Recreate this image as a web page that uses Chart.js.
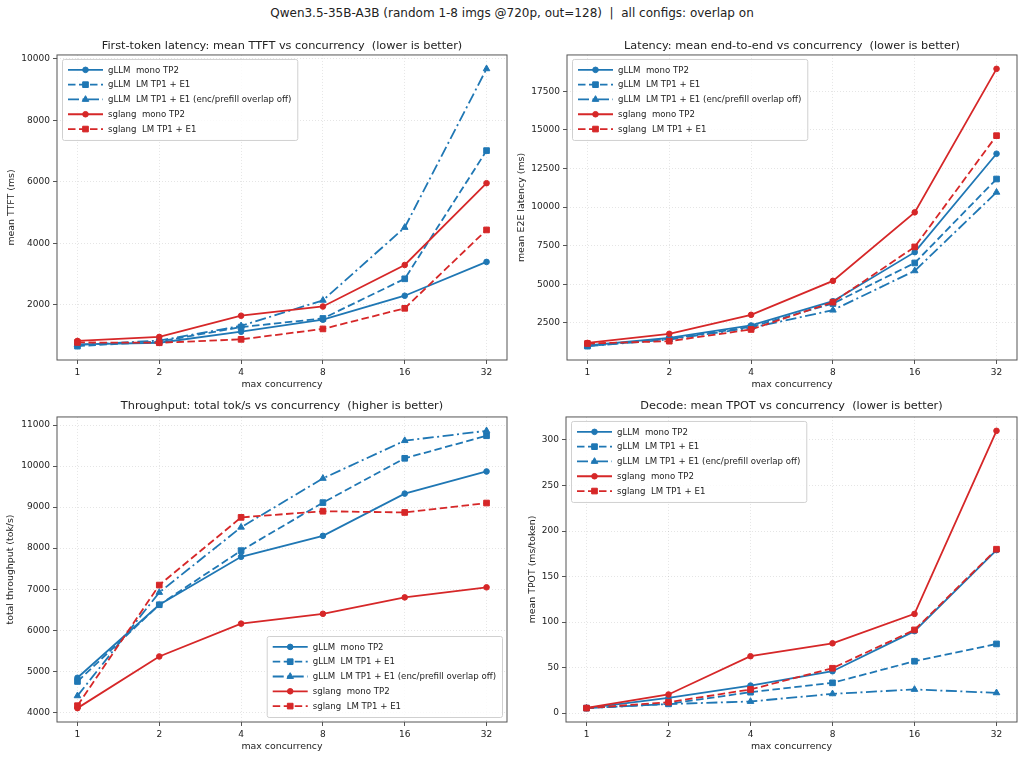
<!DOCTYPE html>
<html>
<head>
<meta charset="utf-8">
<script src="https://cdn.jsdelivr.net/npm/chart.js@4"></script>
<style>
  body { margin: 0; background: #fff; width: 1024px; height: 758px; overflow: hidden; position: relative; font-family: "DejaVu Sans", sans-serif; }
  #suptitle { position: absolute; top: 6px; left: 0; width: 1024px; text-align: center; font-size: 12px; line-height: 14px; color: #222; }
  canvas { position: absolute; }
</style>
</head>
<body>
<div id="suptitle">Qwen3.5-35B-A3B (random 1-8 imgs @720p, out=128)&nbsp;&nbsp;|&nbsp;&nbsp;all configs: overlap on</div>
<canvas id="ttft" width="512" height="362" style="left:0;top:28px"></canvas>
<canvas id="e2e" width="512" height="362" style="left:512px;top:28px"></canvas>
<canvas id="tput" width="512" height="368" style="left:0;top:390px"></canvas>
<canvas id="tpot" width="512" height="368" style="left:512px;top:390px"></canvas>
<script>
// x categories (max concurrency)
const concurrency = [1, 2, 4, 8, 16, 32];

const seriesNames = [
  'gLLM  mono TP2',
  'gLLM  LM TP1 + E1',
  'gLLM  LM TP1 + E1 (enc/prefill overlap off)',
  'sglang  mono TP2',
  'sglang  LM TP1 + E1'
];

// mean TTFT (ms)
const ttftGllmMono = [720, 770, 1130, 1520, 2300, 3400];
const ttftGllmLm = [660, 810, 1280, 1560, 2850, 7020];
const ttftGllmNoOverlap = [700, 840, 1320, 2150, 4520, 9680];
const ttftSglangMono = [830, 960, 1650, 1950, 3300, 5960];
const ttftSglangLm = [780, 770, 880, 1220, 1890, 4440];
const ttftTicks = [2000, 4000, 6000, 8000, 10000];

// mean E2E latency (ms)
const e2eGllmMono = [1030, 1530, 2330, 3900, 7080, 13460];
const e2eGllmLm = [990, 1460, 2240, 3750, 6380, 11820];
const e2eGllmNoOverlap = [990, 1420, 2180, 3320, 5870, 10960];
const e2eSglangMono = [1200, 1790, 3020, 5220, 9660, 18960];
const e2eSglangLm = [1160, 1310, 2070, 3840, 7420, 14630];
const e2eTicks = [2500, 5000, 7500, 10000, 12500, 15000, 17500];

// total throughput (tok/s)
const tputGllmMono = [4840, 6620, 7790, 8300, 9330, 9870];
const tputGllmLm = [4750, 6620, 7940, 9110, 10190, 10740];
const tputGllmNoOverlap = [4400, 6920, 8510, 9700, 10620, 10860];
const tputSglangMono = [4100, 5360, 6160, 6400, 6800, 7045];
const tputSglangLm = [4160, 7100, 8750, 8900, 8870, 9100];
const tputTicks = [4000, 5000, 6000, 7000, 8000, 9000, 10000, 11000];

// mean TPOT (ms/token)
const tpotGllmMono = [5.5, 16.8, 30.3, 46, 90, 179];
const tpotGllmLm = [5.5, 10.2, 23, 33.3, 57, 76];
const tpotGllmNoOverlap = [5.5, 10, 12.8, 21.2, 26, 22.3];
const tpotSglangMono = [5.8, 20.5, 62.5, 76.7, 109, 310];
const tpotSglangLm = [5.5, 12, 26, 49.3, 91.4, 180];
const tpotTicks = [0, 50, 100, 150, 200, 250, 300];

const BLUE = '#1f77b4', RED = '#d62728';
const seriesColors = [BLUE, BLUE, BLUE, RED, RED];
const seriesDash = [[], [7.5, 3.5], [11, 3.5, 2, 3.5], [], [7.5, 3.5]];
const seriesMarkers = ['circle', 'rect', 'triangle', 'circle', 'rect'];
const markerRadius = { circle: 2.8, rect: 4, triangle: 3.8 };
const FONT = '"DejaVu Sans"';
const TEXT = '#222';
const SPINE = '#555';

Chart.defaults.font.family = FONT;
Chart.defaults.color = TEXT;

function drawMarker(ctx, style, r, x, y) {
  ctx.beginPath();
  if (style === 'circle') {
    ctx.arc(x, y, r, 0, Math.PI * 2);
  } else if (style === 'rect') {
    const s = r * Math.SQRT1_2;
    ctx.rect(x - s, y - s, 2 * s, 2 * s);
  } else {
    ctx.moveTo(x, y - r);
    ctx.lineTo(x + r * 0.866, y + r * 0.5);
    ctx.lineTo(x - r * 0.866, y + r * 0.5);
    ctx.closePath();
  }
  ctx.fill();
  ctx.stroke();
}

// box around the plot area, like matplotlib spines
const framePlugin = {
  id: 'frame',
  afterDatasetsDraw(chart) {
    const a = chart.chartArea, ctx = chart.ctx;
    ctx.save();
    ctx.strokeStyle = SPINE;
    ctx.lineWidth = 1;
    ctx.strokeRect(a.left, a.top, a.right - a.left, a.bottom - a.top);
    ctx.restore();
  }
};

// legend drawn inside the plot area
const insideLegend = {
  id: 'insideLegend',
  afterDraw(chart, args, opts) {
    const ctx = chart.ctx, a = chart.chartArea;
    const sets = chart.data.datasets;
    ctx.save();
    ctx.font = '8.6px ' + FONT;
    const textW = Math.max(...sets.map(d => ctx.measureText(d.label).width));
    const rowH = 14.8;
    const w = 6 + 35 + 5 + textW + 6;
    const h = sets.length * rowH + 7;
    const lower = opts.corner === 'lower right';
    const x = lower ? a.right - 5 - w : a.left + 5;
    const y = lower ? a.bottom - 5 - h : a.top + 4;
    ctx.fillStyle = 'rgba(255,255,255,0.8)';
    ctx.strokeStyle = '#d0d0d0';
    ctx.lineWidth = 1;
    ctx.beginPath();
    ctx.roundRect(x + 0.5, y + 0.5, w, h, 2);
    ctx.fill();
    ctx.stroke();
    sets.forEach((d, i) => {
      const cy = y + 3.5 + rowH * (i + 0.5);
      ctx.strokeStyle = d.borderColor;
      ctx.lineWidth = d.borderWidth;
      ctx.setLineDash(d.borderDash);
      ctx.beginPath();
      ctx.moveTo(x + 6, cy);
      ctx.lineTo(x + 41, cy);
      ctx.stroke();
      ctx.setLineDash([]);
      ctx.fillStyle = d.borderColor;
      ctx.lineWidth = 1;
      drawMarker(ctx, d.pointStyle, d.pointRadius, x + 23.5, cy);
      ctx.fillStyle = TEXT;
      ctx.textBaseline = 'middle';
      ctx.textAlign = 'left';
      ctx.fillText(d.label, x + 46, cy + 0.5);
    });
    ctx.restore();
  }
};

function buildDatasets(series) {
  return series.map((vals, i) => ({
    label: seriesNames[i],
    data: vals.map((v, j) => ({ x: Math.log2(concurrency[j]), y: v })),
    borderColor: seriesColors[i],
    backgroundColor: seriesColors[i],
    borderWidth: 1.8,
    borderDash: seriesDash[i],
    pointStyle: seriesMarkers[i],
    pointRadius: markerRadius[seriesMarkers[i]],
    pointBorderWidth: 1,
    pointBackgroundColor: seriesColors[i],
    pointBorderColor: seriesColors[i],
    tension: 0,
    fill: false,
    order: -i
  }));
}

function makePanel(id, cfg) {
  const all = cfg.series.flat();
  const lo = Math.min(...all), hi = Math.max(...all);
  const m = (hi - lo) * 0.05;
  const grid = {
    color: 'rgba(0,0,0,0.13)', lineWidth: 0.8, borderDash: [1, 2],
    tickColor: SPINE, tickLength: 4, tickWidth: 1, tickBorderDash: []
  };
  const border = { display: false, dash: [1, 2] };
  new Chart(document.getElementById(id), {
    type: 'line',
    data: { datasets: buildDatasets(cfg.series) },
    plugins: [framePlugin, insideLegend],
    options: {
      responsive: false,
      animation: false,
      events: [],
      layout: { padding: { left: 0, right: cfg.padRight, top: 0, bottom: cfg.padBottom } },
      plugins: {
        legend: { display: false },
        tooltip: { enabled: false },
        insideLegend: { corner: cfg.legendCorner },
        title: {
          display: true, text: cfg.title, fullSize: false, color: TEXT,
          font: { size: 11.3, weight: 'normal' },
          padding: { top: cfg.titleTop, bottom: cfg.titleBottom }
        }
      },
      scales: {
        x: {
          type: 'linear', min: -0.25, max: 5.25,
          afterBuildTicks: s => { s.ticks = concurrency.map(c => ({ value: Math.log2(c) })); },
          afterFit: s => { s.height = 30; },
          ticks: { callback: v => String(2 ** v), font: { size: 9 }, color: TEXT, padding: 3, maxRotation: 0, autoSkip: false },
          grid: grid, border: border,
          title: { display: true, text: 'max concurrency', font: { size: 9.4 }, color: TEXT, padding: { top: 0, bottom: 0 } }
        },
        y: {
          type: 'linear', min: lo - m, max: hi + m,
          afterBuildTicks: s => { s.ticks = cfg.ticks.map(v => ({ value: v })); },
          afterFit: s => { s.width = cfg.axisW; },
          ticks: { callback: v => String(v), font: { size: 9 }, color: TEXT, padding: 3 },
          grid: grid, border: border,
          title: { display: true, text: cfg.yLabel, font: { size: 9.4 }, color: TEXT, padding: { top: cfg.yTitlePad, bottom: 0 } }
        }
      }
    }
  });
}

makePanel('ttft', {
  title: 'First-token latency: mean TTFT vs concurrency  (lower is better)',
  yLabel: 'mean TTFT (ms)',
  series: [ttftGllmMono, ttftGllmLm, ttftGllmNoOverlap, ttftSglangMono, ttftSglangLm],
  ticks: ttftTicks, legendCorner: 'upper left',
  axisW: 57, padRight: 5, padBottom: 0, titleTop: 10.9, titleBottom: 2.5, yTitlePad: 6.4
});
makePanel('e2e', {
  title: 'Latency: mean end-to-end vs concurrency  (lower is better)',
  yLabel: 'mean E2E latency (ms)',
  series: [e2eGllmMono, e2eGllmLm, e2eGllmNoOverlap, e2eSglangMono, e2eSglangLm],
  ticks: e2eTicks, legendCorner: 'upper left',
  axisW: 55, padRight: 7, padBottom: 0, titleTop: 10.9, titleBottom: 2.5, yTitlePad: 3.7
});
makePanel('tput', {
  title: 'Throughput: total tok/s vs concurrency  (higher is better)',
  yLabel: 'total throughput (tok/s)',
  series: [tputGllmMono, tputGllmLm, tputGllmNoOverlap, tputSglangMono, tputSglangLm],
  ticks: tputTicks, legendCorner: 'lower right',
  axisW: 57, padRight: 5, padBottom: 6, titleTop: 9.2, titleBottom: 4.2, yTitlePad: 5.4
});
makePanel('tpot', {
  title: 'Decode: mean TPOT vs concurrency  (lower is better)',
  yLabel: 'mean TPOT (ms/token)',
  series: [tpotGllmMono, tpotGllmLm, tpotGllmNoOverlap, tpotSglangMono, tpotSglangLm],
  ticks: tpotTicks, legendCorner: 'upper left',
  axisW: 54, padRight: 7, padBottom: 6, titleTop: 9.2, titleBottom: 4.2, yTitlePad: 15
});
</script>
</body>
</html>
